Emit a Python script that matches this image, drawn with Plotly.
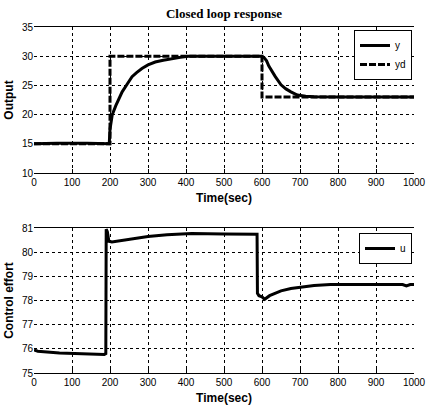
import plotly.graph_objects as go

# Output response y
y_time = [0, 60, 140, 198, 200, 203, 206, 215, 225, 232, 245, 258, 270, 284, 300, 319, 340,
          363, 385, 406, 450, 500, 550, 598, 605, 612, 618, 625, 635, 650, 663, 676, 693,
          715, 737, 800, 880, 900, 1000]
y_vals = [15, 15.1, 15.1, 15, 17.5, 19.2, 20, 21.5, 22.8, 23.9, 25.2, 26.5, 27.2, 27.9, 28.5,
          29.0, 29.3, 29.6, 29.8, 30, 30, 30, 30, 30, 29.8, 29.2, 28.3, 27.5, 26.5, 25.1,
          24.4, 23.9, 23.35, 23.15, 23.05, 23, 23, 23, 23]

# Desired output yd
yd_time = [0, 200, 200, 600, 600, 1000]
yd_vals = [15, 15, 30, 30, 23, 23]

# Control effort u
u_time = [0, 10, 67, 150, 185, 189, 190, 193, 197, 205, 250, 300, 350, 400, 415, 500, 587,
          588, 592, 600, 607, 620, 650, 676, 700, 737, 780, 900, 970, 980, 990, 1000]
u_vals = [75.95, 75.9, 75.83, 75.8, 75.77, 75.8, 80.95, 80.85, 80.45, 80.42, 80.52, 80.65,
          80.72, 80.75, 80.77, 80.75, 80.74, 78.3, 78.2, 78.15, 78.05, 78.2, 78.4, 78.5,
          78.55, 78.62, 78.66, 78.66, 78.66, 78.6, 78.66, 78.66]

x_ticks = [0, 100, 200, 300, 400, 500, 600, 700, 800, 900, 1000]
y1_ticks = [10, 15, 20, 25, 30, 35]
y2_ticks = [75, 76, 77, 78, 79, 80, 81]

W, H = 427, 406
tick_font = dict(family="Liberation Sans Narrow, Arial Narrow, Liberation Sans", size=10, color="black")
title_font = dict(family="Liberation Sans Narrow, Arial Narrow, Liberation Sans", size=12, color="black")

fig = go.Figure()
fig.add_trace(go.Scatter(x=y_time, y=y_vals, mode="lines", name="y",
                         line=dict(color="black", width=3), xaxis="x", yaxis="y", legend="legend"))
fig.add_trace(go.Scatter(x=yd_time, y=yd_vals, mode="lines", name="yd",
                         line=dict(color="black", width=3, dash="7px,2px"), xaxis="x", yaxis="y", legend="legend"))
fig.add_trace(go.Scatter(x=u_time, y=u_vals, mode="lines", name="u",
                         line=dict(color="black", width=3), xaxis="x2", yaxis="y2", legend="legend2"))

X0, X1 = 34, 414

def xax(anchor, title):
    return dict(domain=[X0 / W, X1 / W], range=[0, 1000], tickvals=x_ticks,
                anchor=anchor, showline=True, linecolor="black", linewidth=1, mirror=True,
                ticks="inside", ticklen=4, tickcolor="black", ticklabeloverflow="allow",
                automargin=False,
                showgrid=True, gridcolor="black", griddash="dot", gridwidth=1,
                zeroline=False, tickfont=tick_font,
                title=dict(text="<b>" + title + "</b>", font=title_font, standoff=6))

def yax(anchor, dom, rng, tv, title):
    return dict(domain=dom, range=rng, tickvals=tv, anchor=anchor, showline=False,
                ticks="", showgrid=True, gridcolor="black", griddash="dot", gridwidth=1,
                zeroline=False, tickfont=tick_font, automargin=False,
                title=dict(text="<b>" + title + "</b>", font=title_font, standoff=5))

fig.update_layout(
    width=W, height=H, margin=dict(l=0, r=0, t=0, b=0, autoexpand=False),
    paper_bgcolor="white", plot_bgcolor="white",
    title=dict(text="<b>Closed loop response</b>", x=(X0 + X1) / 2 / W, xanchor="center",
               y=1 - 13 / H, yanchor="middle",
               font=dict(family="Liberation Serif, Times New Roman, serif", size=13, color="black")),
    xaxis=xax("y", "Time(sec)"),
    yaxis=yax("x", [1 - 173 / H, 1 - 27 / H], [10, 35], y1_ticks, "Output"),
    xaxis2=xax("y2", "Time(sec)"),
    yaxis2=yax("x2", [1 - 373 / H, 1 - 228 / H], [75, 81], y2_ticks, "Control effort"),
    legend=dict(x=(X1 - 2) / W, xanchor="right", y=1 - 30 / H, yanchor="top",
                bgcolor="white", bordercolor="black", borderwidth=1,
                font=dict(family="Liberation Sans Narrow, Liberation Sans", size=10, color="black"),
                tracegroupgap=0, itemwidth=30),
    legend2=dict(x=(X1 - 2) / W, xanchor="right", y=1 - 233 / H, yanchor="top",
                 bgcolor="white", bordercolor="black", borderwidth=1,
                 font=dict(family="Liberation Sans Narrow, Liberation Sans", size=10, color="black"),
                 itemwidth=30),
    showlegend=True,
)

fig.write_html("out.html")
